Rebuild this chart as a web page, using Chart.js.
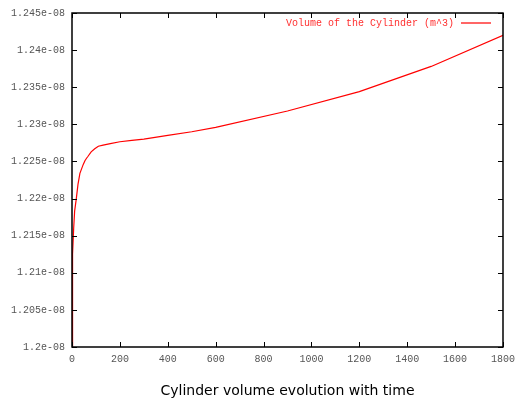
<!DOCTYPE html>
<html>
<head>
<meta charset="utf-8">
<script src="https://cdn.jsdelivr.net/npm/chart.js@4"></script>
<style>
  html, body { margin: 0; padding: 0; background: #fff; }
  #wrap { width: 521px; height: 401px; }
</style>
</head>
<body>
<div id="wrap"><canvas id="volumeChart"></canvas></div>
<script>
// time (s) and cylinder volume (m^3)
var times = [0, 1, 2, 4, 7, 11, 18, 25, 33, 40, 47, 54, 60, 67, 80, 95, 110, 130, 160, 200, 250, 300, 400, 500, 600, 900, 1200, 1500, 1800];
var volumes = [1.2000e-8, 1.2050e-8, 1.2080e-8, 1.2125e-8, 1.2160e-8, 1.2183e-8, 1.2200e-8, 1.2219e-8, 1.2234e-8,
    1.2240e-8, 1.2246e-8, 1.2251e-8, 1.2254e-8, 1.2257e-8, 1.2263e-8, 1.2267e-8, 1.22705e-8, 1.2272e-8,
    1.2274e-8, 1.22765e-8, 1.22785e-8, 1.2280e-8, 1.2285e-8, 1.2290e-8, 1.2296e-8, 1.2318e-8, 1.2344e-8,
    1.2378e-8, 1.2420e-8];

var yTicks = [1.2e-8, 1.205e-8, 1.21e-8, 1.215e-8, 1.22e-8, 1.225e-8, 1.23e-8, 1.235e-8, 1.24e-8, 1.245e-8];
var yTickLabels = ["1.2e-08", "1.205e-08", "1.21e-08", "1.215e-08", "1.22e-08", "1.225e-08", "1.23e-08", "1.235e-08", "1.24e-08", "1.245e-08"];

var seriesLabel = "Volume of the Cylinder (m^3)";
var chartTitle = "Cylinder volume evolution with time";

var monoFont = "'Liberation Mono', 'DejaVu Sans Mono', monospace";

// gnuplot style frame, inward ticks, legend and title
var gnuplotLook = {
    id: 'gnuplotLook',
    afterDraw: function (chart) {
        var ctx = chart.ctx;
        var a = chart.chartArea;
        var xs = chart.scales.x;
        var ys = chart.scales.y;
        var len = 5;

        ctx.save();
        ctx.strokeStyle = "#000";
        ctx.lineWidth = 1;
        ctx.beginPath();
        xs.ticks.forEach(function (t) {
            var px = Math.round(xs.getPixelForValue(t.value)) + 0.5;
            ctx.moveTo(px, a.bottom); ctx.lineTo(px, a.bottom - len);
            ctx.moveTo(px, a.top); ctx.lineTo(px, a.top + len);
        });
        ys.ticks.forEach(function (t) {
            var py = Math.round(ys.getPixelForValue(t.value)) + 0.5;
            ctx.moveTo(a.left, py); ctx.lineTo(a.left + len, py);
            ctx.moveTo(a.right, py); ctx.lineTo(a.right - len, py);
        });
        ctx.stroke();

        ctx.lineWidth = 1.5;
        ctx.strokeRect(a.left, a.top, a.right - a.left, a.bottom - a.top);

        // legend: text then line sample, right aligned
        ctx.font = "10px " + monoFont;
        ctx.fillStyle = "#ff3030";
        ctx.textAlign = "right";
        ctx.textBaseline = "middle";
        ctx.fillText(seriesLabel, a.right - 49, a.top + 10);
        ctx.strokeStyle = "#ff0000";
        ctx.lineWidth = 1.2;
        ctx.beginPath();
        ctx.moveTo(a.right - 42, a.top + 10);
        ctx.lineTo(a.right - 12, a.top + 10);
        ctx.stroke();

        // title under the axis
        ctx.font = "14px 'DejaVu Sans', sans-serif";
        ctx.fillStyle = "#000";
        ctx.textAlign = "center";
        ctx.fillText(chartTitle, (a.left + a.right) / 2, 391);
        ctx.restore();
    }
};

$ = function (sel) { return document.querySelector(sel); };

function volumeChart() {
    var data = {
        datasets: [
            {
                label: seriesLabel,
                data: times.map(function (t, i) { return { x: t, y: volumes[i] }; }),
                borderColor: "#ff0000",
                borderWidth: 1.2,
                pointRadius: 0,
                fill: false,
                tension: 0
            }]
    };

    new Chart($("#volumeChart"), {
        type: 'line',
        data: data,
        plugins: [gnuplotLook],
        options: {
            responsive: true,
            maintainAspectRatio: false,
            animation: false,
            layout: {
                padding: { left: 0, top: 10, right: 17, bottom: 0 }
            },
            plugins: {
                legend: { display: false },
                title: { display: false },
                tooltip: { enabled: false }
            },
            scales: {
                x: {
                    type: 'linear',
                    min: 0,
                    max: 1800,
                    afterFit: function (s) { s.height = 54; },
                    grid: { drawOnChartArea: false, drawTicks: false },
                    border: { display: false },
                    ticks: {
                        stepSize: 200,
                        padding: 6,
                        maxRotation: 0,
                        autoSkip: false,
                        color: "#555",
                        font: { family: monoFont, size: 10 },
                        callback: function (v) { return String(v); }
                    }
                },
                y: {
                    type: 'linear',
                    min: 1.2e-8,
                    max: 1.245e-8,
                    afterFit: function (s) { s.width = 72; },
                    afterBuildTicks: function (s) {
                        s.ticks = yTicks.map(function (v) { return { value: v }; });
                    },
                    grid: { drawOnChartArea: false, drawTicks: false },
                    border: { display: false },
                    ticks: {
                        padding: 7,
                        autoSkip: false,
                        color: "#555",
                        font: { family: monoFont, size: 10 },
                        callback: function (v, i) { return yTickLabels[i]; }
                    }
                }
            }
        }
    });
}

volumeChart();
</script>
</body>
</html>
